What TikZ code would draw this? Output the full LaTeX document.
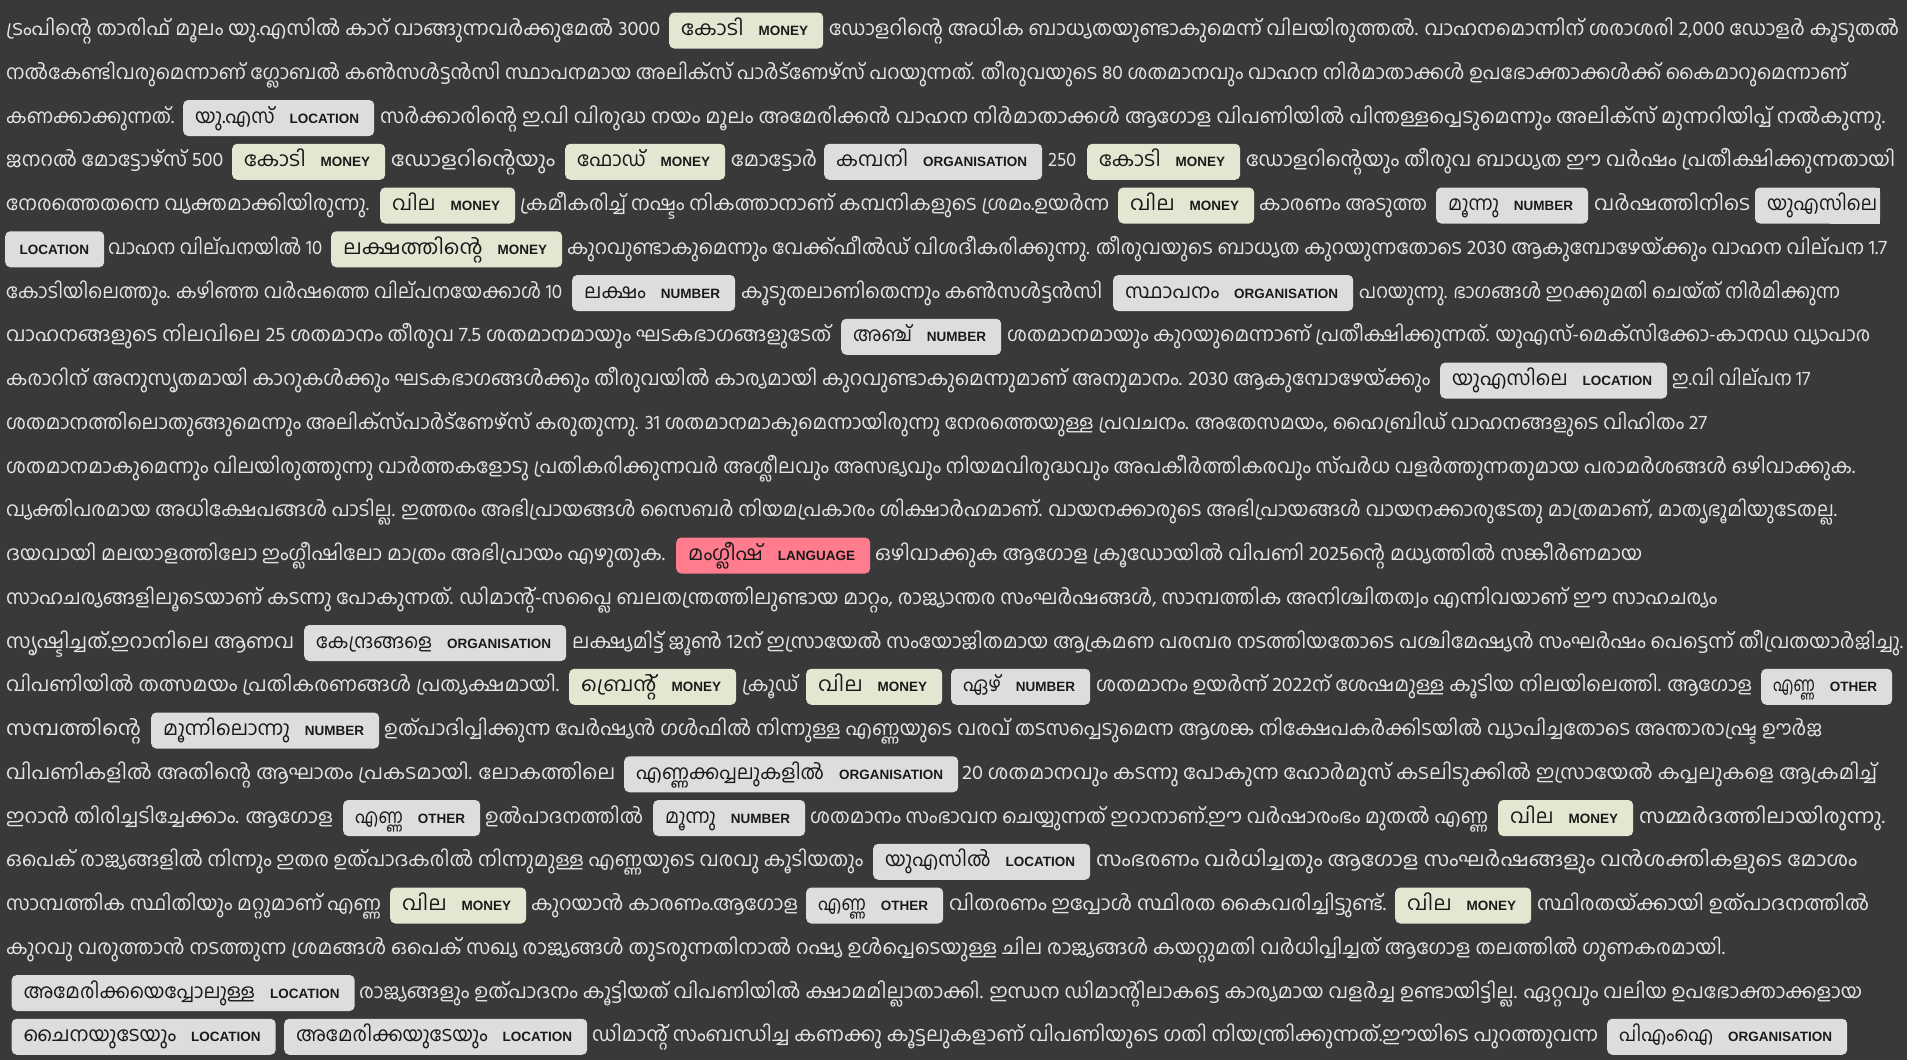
\documentclass[tikz,border=0pt]{standalone}
\usepackage{fontspec}
\usepackage{graphicx}
\newfontfamily\mlfam[Script=Malayalam]{Hind Kochi}
\newfontfamily\labfam{Liberation Sans}
\newcommand\mlf{\fontsize{20pt}{24pt}\selectfont\mlfam}
\newcommand\labf{\fontsize{13.5pt}{14pt}\selectfont\labfam\bfseries}
\newsavebox\labbox
% box content: total box width, word, label
\newcommand\ew[3]{\sbox\labbox{\labf #3}%
  \hbox to \dimexpr #1pt-24pt\relax{\resizebox{\dimexpr #1pt-42pt-\wd\labbox\relax}{\height}{#2}\hfill\usebox\labbox\hspace{3pt}}}
% label-only box content
\newcommand\lw[2]{\hbox to \dimexpr #1pt-24pt\relax{\hfill{\labf #2}\hspace{3pt}}}
% text run fitted to a width
\newcommand\fw[2]{\resizebox{#1pt}{\height}{#2}}
\definecolor{bgc}{HTML}{393939}
\definecolor{fgc}{HTML}{E4E4E4}
\definecolor{moneyc}{HTML}{E4E6D2}
\definecolor{greyc}{HTML}{DDDDDD}
\definecolor{langc}{HTML}{FF7C8F}
\tikzset{
  txt/.style={anchor=base west, inner sep=0pt, text=fgc, font=\mlf},
  ent/.style={anchor=base west, rounded corners=5pt, inner xsep=12pt, inner ysep=9pt,
    text height=14pt, text depth=4pt, text=black!90, font=\mlf},
  money/.style={ent, fill=moneyc},
  grey/.style={ent, fill=greyc},
  lang/.style={ent, fill=langc},
}
\begin{document}
\begin{tikzpicture}[x=1pt,y=-1pt]
\useasboundingbox[fill=bgc] (0,0) rectangle (1907,1060);
% line 1
\node[txt] (l1a) at (6,35.5) {\fw{654}{ട്രംപിന്റെ താരിഫ് മൂലം യു.എസിൽ കാറ് വാങ്ങുന്നവർക്കുമേൽ 3000}};
\node[money] (l1b) at (669,35.5) {\ew{154}{കോടി}{MONEY}};
\node[txt] (l1c) at (829,35.5) {\fw{1070}{ഡോളറിന്റെ അധിക ബാധ്യതയുണ്ടാകുമെന്ന് വിലയിരുത്തൽ. വാഹനമൊന്നിന് ശരാശരി 2,000 ഡോളർ കൂടുതൽ}};
% line 2
\node[txt] (l2a) at (6,79.25) {\fw{1841}{നൽകേണ്ടിവരുമെന്നാണ് ഗ്ലോബൽ കൺസൾട്ടൻസി സ്ഥാപനമായ അലിക്സ് പാർട്ണേഴ്സ് പറയുന്നത്. തീരുവയുടെ 80 ശതമാനവും വാഹന നിർമാതാക്കൾ ഉപഭോക്താക്കൾക്ക് കൈമാറുമെന്നാണ്}};
% line 3
\node[txt] (l3a) at (6,123) {\fw{168}{കണക്കാക്കുന്നത്.}};
\node[grey] (l3b) at (183,123) {\ew{191}{യു.എസ്}{LOCATION}};
\node[txt] (l3c) at (380,123) {\fw{1505}{സർക്കാരിന്റെ ഇ.വി വിരുദ്ധ നയം മൂലം അമേരിക്കൻ വാഹന നിർമാതാക്കൾ ആഗോള വിപണിയിൽ പിന്തള്ളപ്പെടുമെന്നും അലിക്സ് മുന്നറിയിപ്പ് നൽകുന്നു.}};
% line 4
\node[txt] (l4a) at (6,166.75) {\fw{217}{ജനറൽ മോട്ടോഴ്സ് 500}};
\node[money] (l4b) at (232,166.75) {\ew{153}{കോടി}{MONEY}};
\node[txt] (l4c) at (391,166.75) {\fw{164}{ഡോളറിന്റെയും}};
\node[money] (l4d) at (565,166.75) {\ew{160}{ഫോഡ്}{MONEY}};
\node[txt] (l4e) at (731,166.75) {\fw{86}{മോട്ടോർ}};
\node[grey] (l4f) at (824,166.75) {\ew{218}{കമ്പനി}{ORGANISATION}};
\node[txt] (l4g) at (1048,166.75) {\fw{28}{250}};
\node[money] (l4h) at (1087,166.75) {\ew{153}{കോടി}{MONEY}};
\node[txt] (l4i) at (1246,166.75) {\fw{649}{ഡോളറിന്റെയും തീരുവ ബാധ്യത ഈ വർഷം പ്രതീക്ഷിക്കുന്നതായി}};
% line 5
\node[txt] (l5a) at (6,210.5) {\fw{363}{നേരത്തെതന്നെ വ്യക്തമാക്കിയിരുന്നു.}};
\node[money] (l5b) at (380,210.5) {\ew{135}{വില}{MONEY}};
\node[txt] (l5c) at (520,210.5) {\fw{589}{ക്രമീകരിച്ച് നഷ്ടം നികത്താനാണ് കമ്പനികളുടെ ശ്രമം.ഉയർന്ന}};
\node[money] (l5d) at (1118,210.5) {\ew{136}{വില}{MONEY}};
\node[txt] (l5e) at (1259,210.5) {\fw{168}{കാരണം അടുത്ത}};
\node[grey] (l5f) at (1436,210.5) {\ew{152}{മൂന്നു}{NUMBER}};
\node[txt] (l5g) at (1594,210.5) {\fw{156}{വർഷത്തിനിടെ}};
\fill[greyc, rounded corners=5pt] (1755,187.5) rectangle (1880,223.5);
\fill[greyc] (1830,187.5) rectangle (1880,223.5);
\node[txt, text=black!90] (l5h) at (1767,210.5) {\fw{110}{യുഎസിലെ}};
% line 6
\node[grey] (l6a) at (5,254.25) {\lw{99}{LOCATION}};
\node[txt] (l6b) at (108,254.25) {\fw{214}{വാഹന വില്പനയിൽ 10}};
\node[money] (l6c) at (331,254.25) {\ew{231}{ലക്ഷത്തിന്റെ}{MONEY}};
\node[txt] (l6d) at (567,254.25) {\fw{1320}{കുറവുണ്ടാകുമെന്നും വേക്ക്ഫീൽഡ് വിശദീകരിക്കുന്നു. തീരുവയുടെ ബാധ്യത കുറയുന്നതോടെ 2030 ആകുമ്പോഴേയ്ക്കും വാഹന വില്പന 1.7}};
% line 7
\node[txt] (l7a) at (6,298) {\fw{556}{കോടിയിലെത്തും. കഴിഞ്ഞ വർഷത്തെ വില്പനയേക്കാൾ 10}};
\node[grey] (l7b) at (572,298) {\ew{163}{ലക്ഷം}{NUMBER}};
\node[txt] (l7c) at (741,298) {\fw{361}{കൂടുതലാണിതെന്നും കൺസൾട്ടൻസി}};
\node[grey] (l7d) at (1113,298) {\ew{240}{സ്ഥാപനം}{ORGANISATION}};
\node[txt] (l7e) at (1359,298) {\fw{481}{പറയുന്നു. ഭാഗങ്ങൾ ഇറക്കുമതി ചെയ്ത് നിർമിക്കുന്ന}};
% line 8
\node[txt] (l8a) at (6,341.75) {\fw{825}{വാഹനങ്ങളുടെ നിലവിലെ 25 ശതമാനം തീരുവ 7.5 ശതമാനമായും ഘടകഭാഗങ്ങളുടേത്}};
\node[grey] (l8b) at (841,341.75) {\ew{160}{അഞ്ച്}{NUMBER}};
\node[txt] (l8c) at (1007,341.75) {\fw{863}{ശതമാനമായും കുറയുമെന്നാണ് പ്രതീക്ഷിക്കുന്നത്. യുഎസ്-മെക്സിക്കോ-കാനഡ വ്യാപാര}};
% line 9
\node[txt] (l9a) at (6,385.5) {\fw{1424}{കരാറിന് അനുസൃതമായി കാറുകൾക്കും ഘടകഭാഗങ്ങൾക്കും തീരുവയിൽ കാര്യമായി കുറവുണ്ടാകുമെന്നുമാണ് അനുമാനം. 2030 ആകുമ്പോഴേയ്ക്കും}};
\node[grey] (l9b) at (1440,385.5) {\ew{227}{യുഎസിലെ}{LOCATION}};
\node[txt] (l9c) at (1672,385.5) {\fw{138}{ഇ.വി വില്പന 17}};
% line 10
\node[txt] (l10a) at (6,429.25) {\fw{1701}{ശതമാനത്തിലൊതുങ്ങുമെന്നും അലിക്സ്പാർട്ണേഴ്സ് കരുതുന്നു. 31 ശതമാനമാകുമെന്നായിരുന്നു നേരത്തെയുള്ള പ്രവചനം. അതേസമയം, ഹൈബ്രിഡ് വാഹനങ്ങളുടെ വിഹിതം 27}};
% line 11
\node[txt] (l11a) at (6,473) {\fw{1849}{ശതമാനമാകുമെന്നും വിലയിരുത്തുന്നു വാർത്തകളോടു പ്രതികരിക്കുന്നവർ അശ്ലീലവും അസഭ്യവും നിയമവിരുദ്ധവും അപകീർത്തികരവും സ്പർധ വളർത്തുന്നതുമായ പരാമർശങ്ങൾ ഒഴിവാക്കുക.}};
% line 12
\node[txt] (l12a) at (6,516.75) {\fw{1831}{വ്യക്തിപരമായ അധിക്ഷേപങ്ങൾ പാടില്ല. ഇത്തരം അഭിപ്രായങ്ങൾ സൈബർ നിയമപ്രകാരം ശിക്ഷാർഹമാണ്. വായനക്കാരുടെ അഭിപ്രായങ്ങൾ വായനക്കാരുടേതു മാത്രമാണ്, മാതൃഭൂമിയുടേതല്ല.}};
% line 13
\node[txt] (l13a) at (6,560.5) {\fw{659}{ദയവായി മലയാളത്തിലോ ഇംഗ്ലീഷിലോ മാത്രം അഭിപ്രായം എഴുതുക.}};
\node[lang] (l13b) at (676,560.5) {\ew{194}{മംഗ്ലീഷ്}{LANGUAGE}};
\node[txt] (l13c) at (875,560.5) {\fw{767}{ഒഴിവാക്കുക ആഗോള ക്രൂഡോയിൽ വിപണി 2025ന്റെ മധ്യത്തിൽ സങ്കീർണമായ}};
% line 14
\node[txt] (l14a) at (6,604.25) {\fw{1711}{സാഹചര്യങ്ങളിലൂടെയാണ് കടന്നു പോകുന്നത്. ഡിമാന്റ്-സപ്ലൈ ബലതന്ത്രത്തിലുണ്ടായ മാറ്റം, രാജ്യാന്തര സംഘർഷങ്ങൾ, സാമ്പത്തിക അനിശ്ചിതത്വം എന്നിവയാണ് ഈ സാഹചര്യം}};
% line 15
\node[txt] (l15a) at (6,648) {\fw{288}{സൃഷ്ടിച്ചത്.ഇറാനിലെ ആണവ}};
\node[grey] (l15b) at (304,648) {\ew{262}{കേന്ദ്രങ്ങളെ}{ORGANISATION}};
\node[txt] (l15c) at (572,648) {\fw{1331}{ലക്ഷ്യമിട്ട് ജൂൺ 12ന് ഇസ്രായേൽ സംയോജിതമായ ആക്രമണ പരമ്പര നടത്തിയതോടെ പശ്ചിമേഷ്യൻ സംഘർഷം പെട്ടെന്ന് തീവ്രതയാർജിച്ചു.}};
% line 16
\node[txt] (l16a) at (6,691.75) {\fw{553}{വിപണിയിൽ തത്സമയം പ്രതികരണങ്ങൾ പ്രത്യക്ഷമായി.}};
\node[money] (l16b) at (569,691.75) {\ew{167}{ബ്രെന്റ്}{MONEY}};
\node[txt] (l16c) at (742,691.75) {\fw{56}{ക്രൂഡ്}};
\node[money] (l16d) at (806,691.75) {\ew{136}{വില}{MONEY}};
\node[grey] (l16e) at (951,691.75) {\ew{139}{ഏഴ്}{NUMBER}};
\node[txt] (l16f) at (1096,691.75) {\fw{656}{ശതമാനം ഉയർന്ന് 2022ന് ശേഷമുള്ള കൂടിയ നിലയിലെത്തി. ആഗോള}};
\node[grey] (l16g) at (1761,691.75) {\ew{131}{എണ്ണ}{OTHER}};
% line 17
\node[txt] (l17a) at (6,735.5) {\fw{135}{സമ്പത്തിന്റെ}};
\node[grey] (l17b) at (151,735.5) {\ew{228}{മൂന്നിലൊന്നു}{NUMBER}};
\node[txt] (l17c) at (384,735.5) {\fw{1438}{ഉത്പാദിപ്പിക്കുന്ന പേർഷ്യൻ ഗൾഫിൽ നിന്നുള്ള എണ്ണയുടെ വരവ് തടസപ്പെടുമെന്ന ആശങ്ക നിക്ഷേപകർക്കിടയിൽ വ്യാപിച്ചതോടെ അന്താരാഷ്ട്ര ഊർജ}};
% line 18
\node[txt] (l18a) at (6,779.25) {\fw{609}{വിപണികളിൽ അതിന്റെ ആഘാതം പ്രകടമായി. ലോകത്തിലെ}};
\node[grey] (l18b) at (624,779.25) {\ew{334}{എണ്ണക്കപ്പലുകളിൽ}{ORGANISATION}};
\node[txt] (l18c) at (962,779.25) {\fw{915}{20 ശതമാനവും കടന്നു പോകുന്ന ഹോർമുസ് കടലിടുക്കിൽ ഇസ്രായേൽ കപ്പലുകളെ ആക്രമിച്ച്}};
% line 19
\node[txt] (l19a) at (6,823) {\fw{327}{ഇറാൻ തിരിച്ചടിച്ചേക്കാം. ആഗോള}};
\node[grey] (l19b) at (343,823) {\ew{137}{എണ്ണ}{OTHER}};
\node[txt] (l19c) at (485,823) {\fw{158}{ഉൽപാദനത്തിൽ}};
\node[grey] (l19d) at (653,823) {\ew{152}{മൂന്നു}{NUMBER}};
\node[txt] (l19e) at (810,823) {\fw{678}{ശതമാനം സംഭാവന ചെയ്യുന്നത് ഇറാനാണ്.ഈ വർഷാരംഭം മുതൽ എണ്ണ}};
\node[money] (l19f) at (1498,823) {\ew{135}{വില}{MONEY}};
\node[txt] (l19g) at (1639,823) {\fw{246}{സമ്മർദത്തിലായിരുന്നു.}};
% line 20
\node[txt] (l20a) at (6,866.75) {\fw{857}{ഒപെക് രാജ്യങ്ങളിൽ നിന്നും ഇതര ഉത്പാദകരിൽ നിന്നുമുള്ള എണ്ണയുടെ വരവു കൂടിയതും}};
\node[grey] (l20b) at (873,866.75) {\ew{217}{യുഎസിൽ}{LOCATION}};
\node[txt] (l20c) at (1096,866.75) {\fw{761}{സംഭരണം വർധിച്ചതും ആഗോള സംഘർഷങ്ങളും വൻശക്തികളുടെ മോശം}};
% line 21
\node[txt] (l21a) at (6,910.5) {\fw{375}{സാമ്പത്തിക സ്ഥിതിയും മറ്റുമാണ് എണ്ണ}};
\node[money] (l21b) at (390,910.5) {\ew{136}{വില}{MONEY}};
\node[txt] (l21c) at (531,910.5) {\fw{267}{കുറയാൻ കാരണം.ആഗോള}};
\node[grey] (l21d) at (806,910.5) {\ew{137}{എണ്ണ}{OTHER}};
\node[txt] (l21e) at (949,910.5) {\fw{437}{വിതരണം ഇപ്പോൾ സ്ഥിരത കൈവരിച്ചിട്ടുണ്ട്.}};
\node[money] (l21f) at (1395,910.5) {\ew{136}{വില}{MONEY}};
\node[txt] (l21g) at (1537,910.5) {\fw{332}{സ്ഥിരതയ്ക്കായി ഉത്പാദനത്തിൽ}};
% line 22
\node[txt] (l22a) at (6,954.25) {\fw{1719}{കുറവു വരുത്താൻ നടത്തുന്ന ശ്രമങ്ങൾ ഒപെക് സഖ്യ രാജ്യങ്ങൾ തുടരുന്നതിനാൽ റഷ്യ ഉൾപ്പെടെയുള്ള ചില രാജ്യങ്ങൾ കയറ്റുമതി വർധിപ്പിച്ചത് ആഗോള തലത്തിൽ ഗുണകരമായി.}};
% line 23
\node[grey] (l23a) at (11.5,998) {\ew{343}{അമേരിക്കയെപ്പോലുള്ള}{LOCATION}};
\node[txt] (l23b) at (359,998) {\fw{1503}{രാജ്യങ്ങളും ഉത്പാദനം കൂട്ടിയത് വിപണിയിൽ ക്ഷാമമില്ലാതാക്കി. ഇന്ധന ഡിമാന്റിലാകട്ടെ കാര്യമായ വളർച്ച ഉണ്ടായിട്ടില്ല. ഏറ്റവും വലിയ ഉപഭോക്താക്കളായ}};
% line 24
\node[grey] (l24a) at (11.5,1041.75) {\ew{264}{ചൈനയുടേയും}{LOCATION}};
\node[grey] (l24b) at (284,1041.75) {\ew{303}{അമേരിക്കയുടേയും}{LOCATION}};
\node[txt] (l24c) at (592,1041.75) {\fw{1006}{ഡിമാന്റ് സംബന്ധിച്ച കണക്കു കൂട്ടലുകളാണ് വിപണിയുടെ ഗതി നിയന്ത്രിക്കുന്നത്.ഈയിടെ പുറത്തുവന്ന}};
\node[grey] (l24d) at (1607,1041.75) {\ew{240}{പിഎംഐ}{ORGANISATION}};
\end{tikzpicture}
\end{document}
